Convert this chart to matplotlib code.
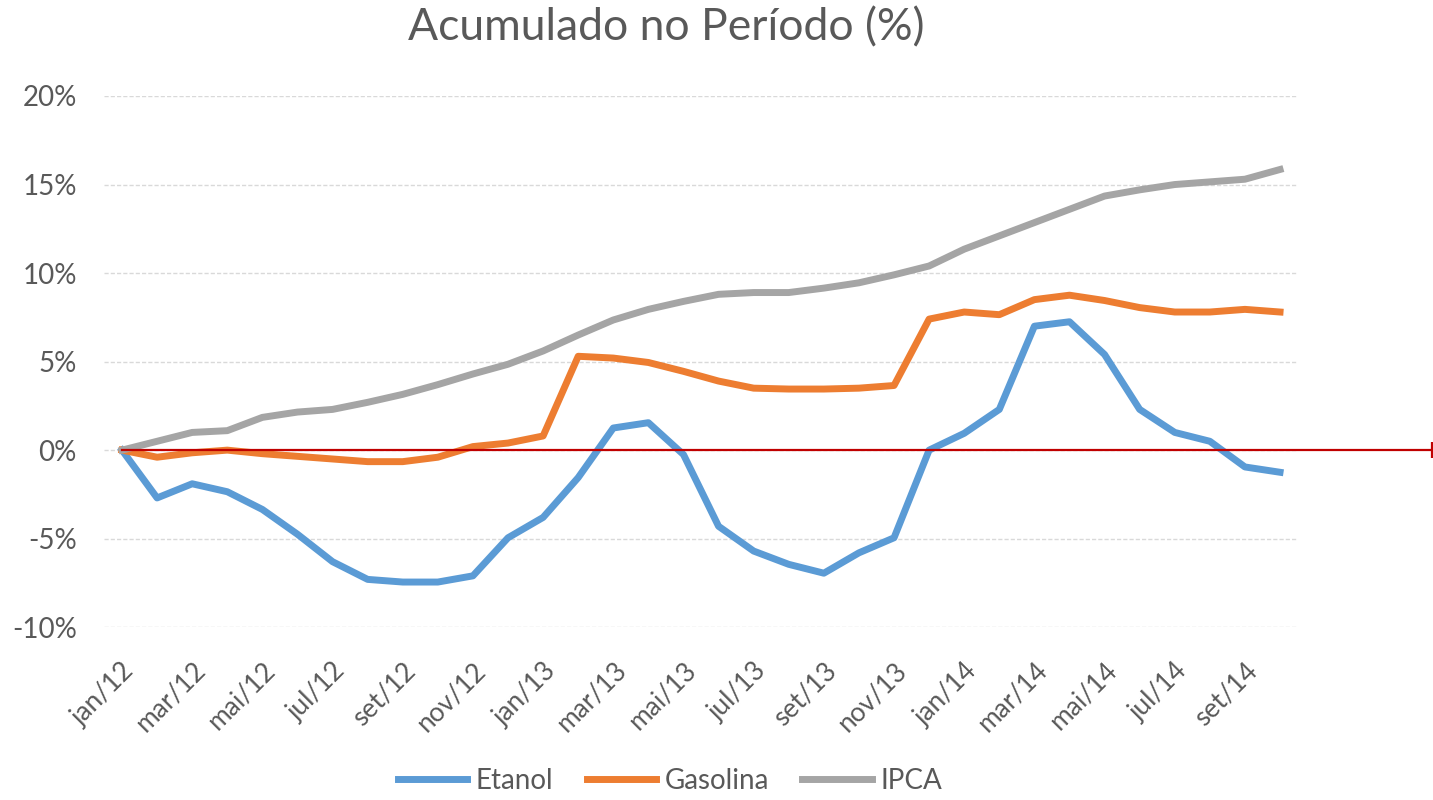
import matplotlib
matplotlib.use('Agg')
import matplotlib.pyplot as plt
from matplotlib.transforms import ScaledTranslation

plt.rcParams['font.family'] = ['Lato', 'DejaVu Sans']

months = ['jan', 'fev', 'mar', 'abr', 'mai', 'jun', 'jul', 'ago', 'set', 'out', 'nov', 'dez']
periods = [f'{m}/{y}' for y in ('12', '13', '14') for m in months][:34]

etanol = [0, -2.7, -1.9, -2.35, -3.35, -4.75, -6.3, -7.3, -7.45, -7.45, -7.1, -4.95,
          -3.8, -1.55, 1.25, 1.55, -0.25, -4.3, -5.7, -6.45, -6.95, -5.8, -4.95, 0.0,
          0.95, 2.3, 7.0, 7.25, 5.4, 2.3, 1.0, 0.5, -0.95, -1.25]
gasolina = [0, -0.4, -0.15, 0, -0.2, -0.35, -0.5, -0.65, -0.65, -0.4, 0.2, 0.4,
            0.8, 5.3, 5.2, 4.95, 4.45, 3.9, 3.5, 3.45, 3.45, 3.5, 3.65, 7.4,
            7.8, 7.65, 8.5, 8.75, 8.45, 8.05, 7.8, 7.8, 7.95, 7.8]
ipca = [0, 0.5, 1.0, 1.1, 1.85, 2.15, 2.3, 2.7, 3.15, 3.7, 4.3, 4.85,
        5.6, 6.5, 7.35, 7.95, 8.4, 8.8, 8.9, 8.9, 9.15, 9.45, 9.9, 10.4,
        11.35, 12.1, 12.85, 13.6, 14.35, 14.7, 15.0, 15.15, 15.3, 15.85]
yticks = [-10, -5, 0, 5, 10, 15, 20]

text_color = '#595959'
x = list(range(len(periods)))

fig = plt.figure(figsize=(14.33, 8), dpi=100)
ax = fig.add_axes([0.0729, 0.216, 0.8326, 0.664])

for v in yticks:
    ax.axhline(v, color='#D9D9D9', lw=1, ls=(0, (3, 1.5)), zorder=0)

ax.plot(x, etanol, color='#5B9BD5', lw=5, label='Etanol', solid_joinstyle='round')
ax.plot(x, gasolina, color='#ED7D31', lw=5, label='Gasolina', solid_joinstyle='round')
ax.plot(x, ipca, color='#A5A5A5', lw=5, label='IPCA', solid_joinstyle='round')

# red zero line running past the plot area to the figure edge
ax.plot([0, 37.33], [0, 0], color='#C00000', lw=1.6, clip_on=False, zorder=5)
ax.plot([37.33], [0], marker='|', ms=12, mew=1.6, color='#C00000', clip_on=False)

ax.set_xlim(-0.5, 33.5)
ax.set_ylim(-10, 20)
ax.set_yticks(yticks)
ax.set_yticklabels([f'{v}%' for v in yticks], fontsize=20, color=text_color)
ax.set_xticks(x[::2])
ax.set_xticklabels(periods[::2], fontsize=19, color=text_color,
                   rotation=45, ha='right', rotation_mode='anchor')
shift = ScaledTranslation(7 / 100, 0, fig.dpi_scale_trans)
for lab in ax.get_xticklabels():
    lab.set_transform(lab.get_transform() + shift)
ax.tick_params(axis='both', length=0)
ax.tick_params(axis='y', pad=20)
ax.tick_params(axis='x', pad=22)
for s in ax.spines.values():
    s.set_visible(False)

fig.text(0.465, 0.965, 'Acumulado no Período (%)', ha='center', va='center',
         fontsize=32, color=text_color)

fig.legend(loc='lower center', bbox_to_anchor=(0.4675, -0.024), ncol=3, frameon=False,
           fontsize=20, handlelength=2.5, columnspacing=1.2, handletextpad=0.3,
           labelcolor=text_color)

fig.savefig('out.png', dpi=100)
plt.close()
